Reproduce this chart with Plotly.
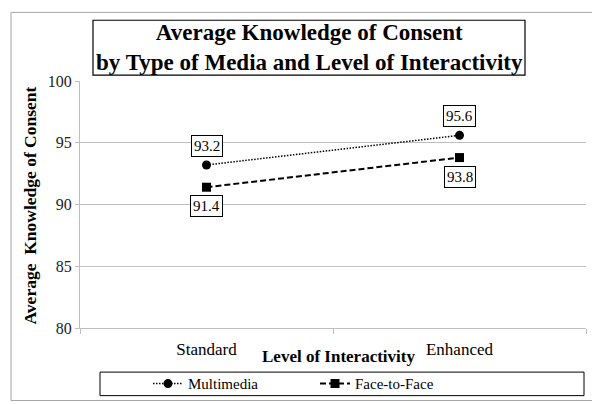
import plotly.graph_objects as go

categories = ["Standard", "Enhanced"]
multimedia = [93.2, 95.6]
face_to_face = [91.4, 93.8]
y_ticks = [80, 85, 90, 95, 100]

FONT = "Liberation Serif, Times New Roman, serif"

# plot area in pixels
L, R, T, B = 72, 578, 73, 325
W, H = 600, 404


def px(xp):
    return (xp - L) / (R - L)


def py(yp):
    return (B - yp) / (B - T)


fig = go.Figure()
fig.add_trace(go.Scatter(
    x=categories, y=multimedia, name="Multimedia", mode="lines+markers",
    line=dict(color="black", width=1.5, dash="1.5px,1.5px"),
    marker=dict(symbol="circle", size=9, color="black"),
))
fig.add_trace(go.Scatter(
    x=categories, y=face_to_face, name="Face-to-Face", mode="lines+markers",
    line=dict(color="black", width=2, dash="6px,3px"),
    marker=dict(symbol="square", size=9, color="black"),
))

annotations = []
for xs, ys, shift in [(categories, multimedia, 19), (categories, face_to_face, -19)]:
    for xv, yv in zip(xs, ys):
        annotations.append(dict(
            x=xv, y=yv, xref="x", yref="y", text=f"{yv:.1f}", showarrow=False,
            yshift=shift, font=dict(family=FONT, size=15, color="black"),
            bordercolor="black", borderwidth=1, borderpad=2, bgcolor="white",
        ))

annotations.append(dict(
    x=px(301), y=py(39), xref="paper", yref="paper", showarrow=False,
    text="<b>Average Knowledge of Consent<br>by Type of Media and Level of Interactivity</b>",
    font=dict(family=FONT, size=23, color="black"), xanchor="center", yanchor="middle",
))
annotations.append(dict(
    x=px(22), y=py(200), xref="paper", yref="paper", showarrow=False,
    text="<b>Average  Knowledge of Consent</b>", textangle=-90,
    font=dict(family=FONT, size=17.5, color="black"), xanchor="center", yanchor="middle",
))
annotations.append(dict(
    x=px(330), y=py(354), xref="paper", yref="paper", showarrow=False,
    text="<b>Level of Interactivity</b>",
    font=dict(family=FONT, size=17, color="black"), xanchor="center", yanchor="middle",
))

shapes = [
    dict(type="rect", xref="paper", yref="paper", x0=px(3), x1=px(597), y0=py(3), y1=py(399),
         line=dict(color="#a6a6a6", width=1), layer="below"),
    dict(type="rect", xref="paper", yref="paper", x0=px(85), x1=px(517), y0=py(11), y1=py(67),
         line=dict(color="black", width=1.2)),
    dict(type="rect", xref="paper", yref="paper", x0=px(92), x1=px(576), y0=py(370), y1=py(394),
         line=dict(color="black", width=1)),
]

fig.update_layout(
    width=W, height=H,
    margin=dict(l=L, r=W - R, t=T, b=H - B),
    paper_bgcolor="white", plot_bgcolor="white",
    font=dict(family=FONT, color="black"),
    showlegend=True,
    legend=dict(
        orientation="h", x=px(140), xanchor="left", y=py(382), yanchor="middle",
        entrywidth=122, entrywidthmode="pixels", itemwidth=30,
        font=dict(family=FONT, size=15, color="black"), bgcolor="rgba(0,0,0,0)",
    ),
    annotations=annotations,
    shapes=shapes,
    xaxis=dict(
        type="category", range=[-0.5, 1.5], tickson="boundaries", ticks="outside",
        ticklen=5, tickcolor="#bfbfbf", showline=True, linecolor="#bfbfbf", linewidth=1,
        showgrid=False, zeroline=False, ticklabelstandoff=6,
        tickfont=dict(family=FONT, size=17, color="black"),
    ),
    yaxis=dict(
        range=[80, 100], tickvals=y_ticks, ticks="outside", ticklen=4, tickcolor="#bfbfbf",
        showline=True, linecolor="#bfbfbf", linewidth=1, showgrid=True, gridcolor="#bfbfbf",
        gridwidth=1, zeroline=False,
        tickfont=dict(family=FONT, size=16, color="#222"),
    ),
)

fig.write_html("out.html")
